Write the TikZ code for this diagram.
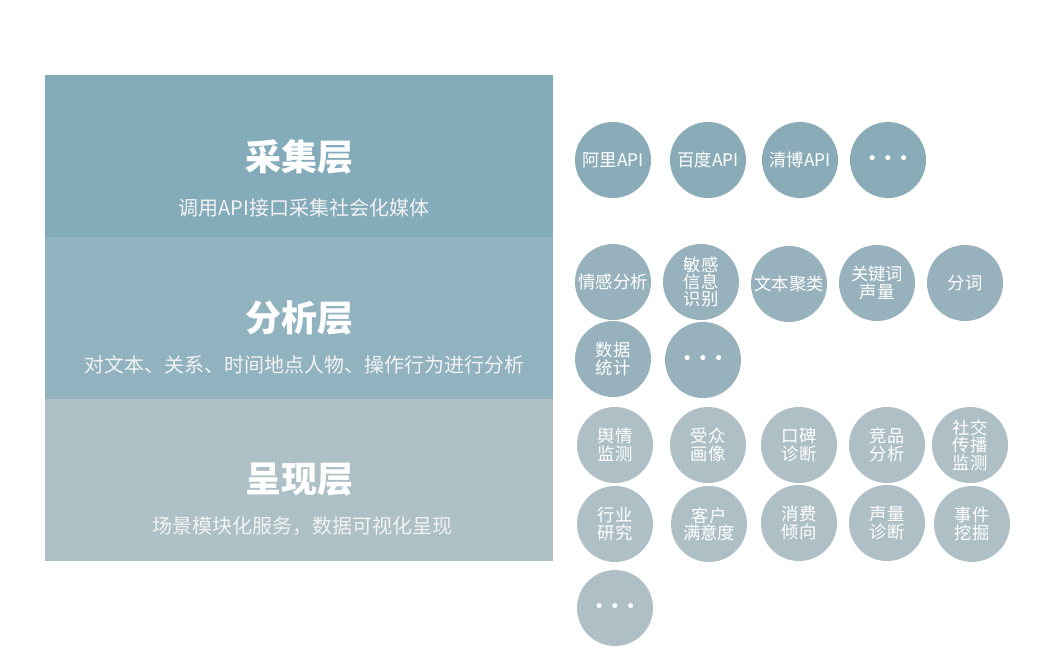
\documentclass[tikz,border=0pt]{standalone}
\usepackage{fontspec}
\setmainfont{Noto Sans CJK SC}
\newfontfamily\dotfont{DejaVu Sans}
\definecolor{caijiC}{HTML}{84ABBA}
\definecolor{fenxiC}{HTML}{91B3C0}
\definecolor{chengxianC}{HTML}{ADC0C6}
\definecolor{dotA}{HTML}{8AABB8}
\definecolor{dotB}{HTML}{98B2BD}
\definecolor{dotC}{HTML}{AEC0C6}
\newcommand{\moredots}{{\dotfont\fontsize{13}{13}\selectfont • • •}}

\begin{document}
\begin{tikzpicture}[x=0.75pt,y=-0.75pt,
  title/.style={text=white,font=\fontsize{27}{29}\selectfont\bfseries},
  subtitle/.style={text=white!90!gray,font=\fontsize{15}{17}\selectfont},
  item/.style={circle,minimum size=57pt,inner sep=0pt,align=center,
    text=white,font=\fontsize{13}{13}\selectfont},
  itemA/.style={item,fill=dotA},
  itemB/.style={item,fill=dotB},
  itemC/.style={item,fill=dotC}]
\useasboundingbox (0,0) rectangle (1060,671);
\fill[caijiC] (45,75) rectangle (553,237);
\fill[fenxiC] (45,237) rectangle (553,399);
\fill[chengxianC] (45,399) rectangle (553,561);
\node[title] (caiji) at (299,157) {采集层};
\node[subtitle] (caijiSub) at (304,208) {调用API接口采集社会化媒体};
\node[title] (fenxi) at (299,318) {分析层};
\node[subtitle] (fenxiSub) at (304,365) {对文本、关系、时间地点人物、操作行为进行分析};
\node[title] (chengxian) at (299,480) {呈现层};
\node[subtitle] (chengxianSub) at (302,526) {场景模块化服务，数据可视化呈现};
% collection layer
\node[itemA] (ali) at (613,160) {阿里API};
\node[itemA] (baidu) at (708,160) {百度API};
\node[itemA] (qingbo) at (800,160) {清博API};
\node[itemA] (moreA) at (888,160) {\moredots};
% analysis layer
\node[itemB] (qinggan) at (613,282) {情感分析};
\node[itemB] (mingan) at (701,282) {敏感\\信息\\识别};
\node[itemB] (juli) at (789,284) {文本聚类};
\node[itemB] (guanjian) at (877,283) {关键词\\声量};
\node[itemB] (fenci) at (965,283) {分词};
\node[itemB] (tongji) at (613,359) {数据\\统计};
\node[itemB] (moreB) at (703,360) {\moredots};
% presentation layer
\node[itemC] (yuqing) at (615,445) {舆情\\监测};
\node[itemC] (shouzhong) at (708,445) {受众\\画像};
\node[itemC] (koubei) at (799,445) {口碑\\诊断};
\node[itemC] (jingpin) at (887,445) {竞品\\分析};
\node[itemC] (shejiao) at (970,445) {社交\\传播\\监测};
\node[itemC] (hangye) at (615,524) {行业\\研究};
\node[itemC] (kehu) at (709,524) {客户\\满意度};
\node[itemC] (xiaofei) at (799,523) {消费\\倾向};
\node[itemC] (shengliang) at (887,523) {声量\\诊断};
\node[itemC] (shijian) at (972,524) {事件\\挖掘};
\node[itemC] (moreC) at (615,608) {\moredots};
\end{tikzpicture}
\end{document}
